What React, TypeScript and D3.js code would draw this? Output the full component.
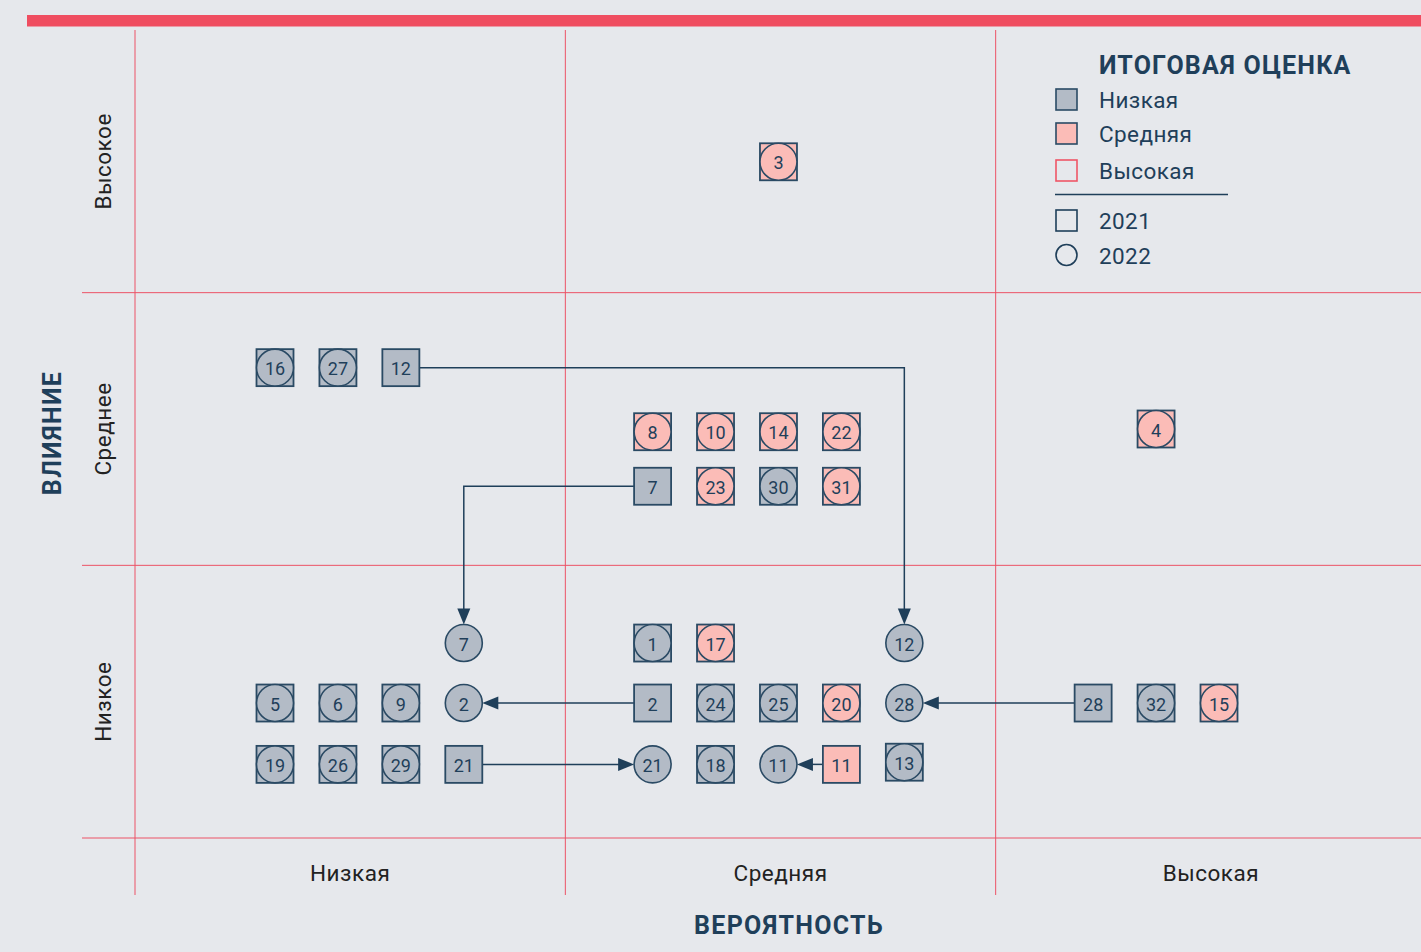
import React from "react";
import * as d3 from "d3";

const W = 1421;
const H = 952;

// Categories
const probabilityCats = ["Низкая", "Средняя", "Высокая"];
const impactCats = ["Низкое", "Среднее", "Высокое"];
const ratingCats = ["Низкая", "Средняя", "Высокая"];
const yearCats = ["2021", "2022"];

// Risks: id, 2021 slot / impact / rating, 2022 slot / impact / rating
const riskIds = [16, 27, 12, 8, 10, 14, 22, 7, 23, 30, 31, 3, 4, 1, 17, 5, 6, 9, 2, 24, 25, 20, 28, 32, 15, 19, 26, 29, 21, 18, 11, 13];
const slot2021 = [0, 1, 2, 6, 7, 8, 9, 6, 7, 8, 9, 8, 14, 6, 7, 0, 1, 2, 6, 7, 8, 9, 13, 14, 15, 0, 1, 2, 3, 7, 9, 10];
const impact2021 = [1.725, 1.725, 1.725, 1.49, 1.49, 1.49, 1.49, 1.29, 1.29, 1.29, 1.29, 2.48, 1.5, 0.715, 0.715, 0.495, 0.495, 0.495, 0.495, 0.495, 0.495, 0.495, 0.495, 0.495, 0.495, 0.27, 0.27, 0.27, 0.27, 0.27, 0.27, 0.278];
const rating2021 = [0, 0, 0, 1, 1, 1, 1, 0, 1, 0, 1, 1, 1, 0, 1, 0, 0, 0, 0, 0, 0, 1, 0, 0, 1, 0, 0, 0, 0, 0, 1, 0];
const slot2022 = [0, 1, 10, 6, 7, 8, 9, 3, 7, 8, 9, 8, 14, 6, 7, 0, 1, 2, 3, 7, 8, 9, 10, 14, 15, 0, 1, 2, 6, 7, 8, 10];
const impact2022 = [1.725, 1.725, 0.715, 1.49, 1.49, 1.49, 1.49, 0.715, 1.29, 1.29, 1.29, 2.48, 1.5, 0.715, 0.715, 0.495, 0.495, 0.495, 0.495, 0.495, 0.495, 0.495, 0.495, 0.495, 0.495, 0.27, 0.27, 0.27, 0.27, 0.27, 0.27, 0.278];
const rating2022 = [0, 0, 0, 1, 1, 1, 1, 0, 1, 0, 1, 1, 1, 0, 1, 0, 0, 0, 0, 0, 0, 1, 0, 0, 1, 0, 0, 0, 0, 0, 0, 0];

const BG = "#e6e8ec";
const RED = "#ef4d60";
const GRID = "#ec5266";
const NAVY = "#1f3f5a";
const STROKE = "#2a4a64";
const ratingFill = ["#b3bbc6", "#fbbcb7", "none"];
const ratingStroke = [STROKE, STROKE, "#ef5567"];
const FONT = "Roboto, 'Open Sans', sans-serif";

export default function App() {
  const xCat = d3.scaleLinear().domain([0, 3]).range([135, 1426]);
  const yCat = d3.scaleLinear().domain([0, 3]).range([838, 20]);
  const xSlot = d3.scaleLinear().domain([0, 15]).range([275, 1219]);

  const S = 37;
  const R = 18.5;

  const risks = riskIds.map((id, i) => ({
    id,
    a: { x: xSlot(slot2021[i]), y: yCat(impact2021[i]), r: rating2021[i] },
    b: { x: xSlot(slot2022[i]), y: yCat(impact2022[i]), r: rating2022[i] },
  }));

  const arrows: { d: string; tip: [number, number]; dir: string }[] = [];
  risks.forEach((k) => {
    const { a, b } = k;
    if (Math.abs(a.x - b.x) < 1 && Math.abs(a.y - b.y) < 1) return;
    const sgn = b.x > a.x ? 1 : -1;
    if (Math.abs(a.y - b.y) < 1) {
      const x0 = a.x + sgn * S / 2;
      const x1 = b.x - sgn * R;
      arrows.push({ d: d3.line()([[x0, a.y], [x1 - sgn * 10, a.y]]) as string, tip: [x1, a.y], dir: sgn > 0 ? "right" : "left" });
    } else {
      const x0 = a.x + sgn * S / 2;
      const y1 = b.y - R;
      arrows.push({ d: d3.line()([[x0, a.y], [b.x, a.y], [b.x, y1 - 10]]) as string, tip: [b.x, y1], dir: "down" });
    }
  });

  const head = (tip: [number, number], dir: string) => {
    const [tx, ty] = tip;
    const L = 16, hw = 6.5;
    let pts: [number, number][];
    if (dir === "right") pts = [[tx, ty], [tx - L, ty - hw], [tx - L, ty + hw]];
    else if (dir === "left") pts = [[tx, ty], [tx + L, ty - hw], [tx + L, ty + hw]];
    else pts = [[tx, ty], [tx - hw, ty - L], [tx + hw, ty - L]];
    return "M" + pts.map((p) => p.join(",")).join("L") + "Z";
  };

  const legendY = [100, 134, 171];

  return (
    <svg width={W} height={H} style={{ position: "absolute", left: 0, top: 0, background: BG }} fontFamily={FONT}>
      <rect x={0} y={0} width={W} height={H} fill={BG} />
      <rect x={27} y={15} width={W - 27} height={11.5} fill={RED} />

      {/* grid */}
      {[0, 1, 2].map((v) => (
        <line key={"v" + v} x1={xCat(v)} x2={xCat(v)} y1={30} y2={895} stroke={GRID} strokeWidth={1} />
      ))}
      {[0, 1, 2].map((v) => (
        <line key={"h" + v} x1={82} x2={W} y1={yCat(v)} y2={yCat(v)} stroke={GRID} strokeWidth={1} />
      ))}

      {/* category labels */}
      {probabilityCats.map((c, i) => (
        <text key={c} x={xCat(i + 0.5)} y={873} textAnchor="middle" dominantBaseline="central" fontSize={22.5} letterSpacing={0.5} fill="#222">
          {c}
        </text>
      ))}
      {impactCats.map((c, i) => {
        const cy = i === 2 ? (yCat(2) + 30) / 2 : yCat(i + 0.5);
        return (
          <text key={c} transform={`translate(103,${cy}) rotate(-90)`} textAnchor="middle" dominantBaseline="central" fontSize={22.5} letterSpacing={0.5} fill="#222">
            {c}
          </text>
        );
      })}
      <text x={789} y={925} textAnchor="middle" dominantBaseline="central" fontSize={25} letterSpacing={1.3} fontWeight={700} fill={NAVY}>
        ВЕРОЯТНОСТЬ
      </text>
      <text transform={`translate(52,433) rotate(-90)`} textAnchor="middle" dominantBaseline="central" fontSize={25} letterSpacing={1.3} fontWeight={700} fill={NAVY}>
        ВЛИЯНИЕ
      </text>

      {/* arrows */}
      {arrows.map((a, i) => (
        <g key={"a" + i}>
          <path d={a.d} fill="none" stroke={NAVY} strokeWidth={1.5} />
          <path d={head(a.tip, a.dir)} fill={NAVY} />
        </g>
      ))}

      {/* markers */}
      {risks.map((k) => {
        const same = Math.abs(k.a.x - k.b.x) < 1 && Math.abs(k.a.y - k.b.y) < 1;
        return (
          <g key={"r" + k.id}>
            <rect x={k.a.x - S / 2} y={k.a.y - S / 2} width={S} height={S} fill={ratingFill[k.a.r]} stroke={ratingStroke[k.a.r]} strokeWidth={1.8} />
            {!same && (
              <text x={k.a.x} y={k.a.y + 1} textAnchor="middle" dominantBaseline="central" fontSize={18} fill={NAVY}>
                {k.id}
              </text>
            )}
            <circle cx={k.b.x} cy={k.b.y} r={R} fill={ratingFill[k.b.r]} stroke={ratingStroke[k.b.r]} strokeWidth={1.6} />
            <text x={k.b.x} y={k.b.y + 1} textAnchor="middle" dominantBaseline="central" fontSize={18} fill={NAVY}>
              {k.id}
            </text>
          </g>
        );
      })}

      {/* legend */}
      <text x={1099} y={65} dominantBaseline="central" fontSize={25} letterSpacing={1.2} fontWeight={700} fill={NAVY}>
        ИТОГОВАЯ ОЦЕНКА
      </text>
      {ratingCats.map((c, i) => (
        <g key={"l" + c}>
          <rect x={1056} y={legendY[i] - 11} width={21} height={21} fill={i === 2 ? "none" : ratingFill[i]} stroke={ratingStroke[i]} strokeWidth={1.6} />
          <text x={1099} y={legendY[i]} dominantBaseline="central" fontSize={22.5} letterSpacing={0.4} fill={NAVY}>
            {c}
          </text>
        </g>
      ))}
      <line x1={1055} x2={1228} y1={194.5} y2={194.5} stroke={NAVY} strokeWidth={1.5} />
      <rect x={1056} y={210} width={21} height={21} fill="none" stroke={NAVY} strokeWidth={1.6} />
      <text x={1099} y={221} dominantBaseline="central" fontSize={22.5} letterSpacing={0.4} fill={NAVY}>
        {yearCats[0]}
      </text>
      <circle cx={1066.5} cy={255} r={10.5} fill="none" stroke={NAVY} strokeWidth={1.6} />
      <text x={1099} y={256} dominantBaseline="central" fontSize={22.5} letterSpacing={0.4} fill={NAVY}>
        {yearCats[1]}
      </text>
    </svg>
  );
}
